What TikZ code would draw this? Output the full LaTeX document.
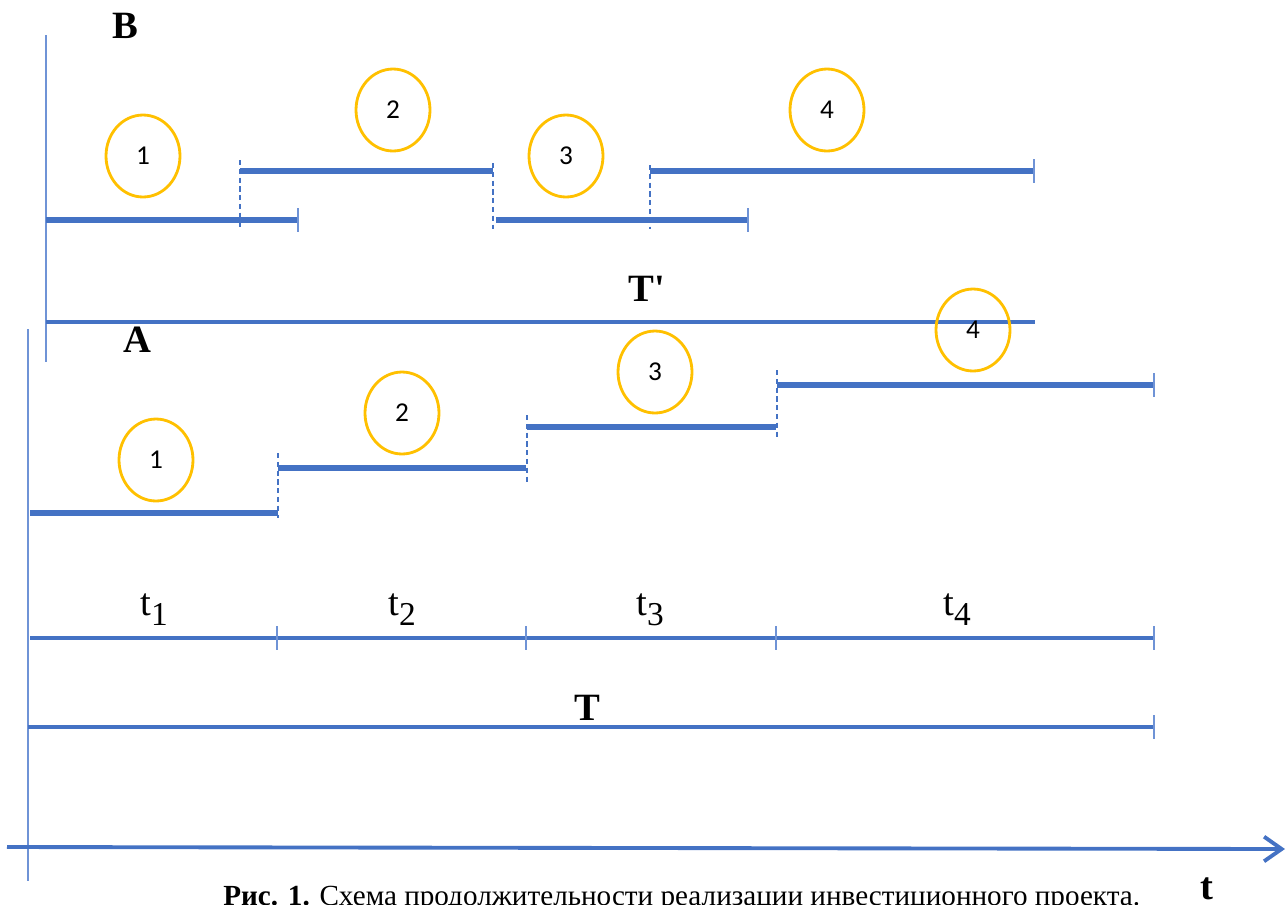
\documentclass[tikz,border=0pt]{standalone}
\usepackage{fontspec}
\setmainfont{Liberation Serif}
\newfontfamily\numfont{Carlito}
\usetikzlibrary{arrows.meta,shapes.geometric}

\definecolor{barblue}{HTML}{4472C4}
\definecolor{axisblue}{HTML}{6F93D6}
\definecolor{ringgold}{HTML}{FFC000}

\newcommand{\lowidx}[1]{\raisebox{-6pt}{\fontsize{19}{19}\selectfont #1}}

\tikzset{bar/.style = {draw=barblue, line width=2.9pt},
         span/.style = {draw=barblue, line width=2.2pt},
         axe/.style = {draw=axisblue, line width=0.9pt},
         guide/.style = {draw=barblue, line width=0.8pt, dash pattern=on 3pt off 2pt},
         endtick/.style = {-{Bar[width=13.5pt, line width=0.9pt, color=axisblue]}},
         ring/.style = {ellipse, draw=ringgold, line width=1.6pt, inner sep=0pt,
                        minimum width=1.48cm, minimum height=1.64cm,
                        font=\numfont\fontsize{15.5}{15.5}\selectfont},
         big/.style = {inner sep=0pt, font=\fontsize{22}{24}\selectfont\bfseries},
         dur/.style = {inner sep=0pt, anchor=base, font=\fontsize{22}{24}\selectfont}
        }

\begin{document}
\begin{tikzpicture}[x=0.02cm, y=-0.02cm]
\useasboundingbox (0,0) rectangle (1288,904);

% variant B
\coordinate (Btop) at (46,35);
\coordinate (Bbot) at (46,362);
\draw[axe] (Btop) -- (Bbot);
\node[big] at (125,26) (labB) {B};
\coordinate (b1s) at (46,220);  \coordinate (b1e) at (299,220);
\coordinate (b2s) at (240,171); \coordinate (b2e) at (493,171);
\coordinate (b3s) at (496,220); \coordinate (b3e) at (749,220);
\coordinate (b4s) at (650,171); \coordinate (b4e) at (1035,171);
\draw[bar, endtick] (b1s) -- (b1e);
\draw[bar] (b2s) -- (b2e);
\draw[bar, endtick] (b3s) -- (b3e);
\draw[bar, endtick] (b4s) -- (b4e);
\coordinate (gb1t) at (240,160); \coordinate (gb1b) at (240,230);
\coordinate (gb2t) at (493,163); \coordinate (gb2b) at (493,229);
\coordinate (gb3t) at (650,165); \coordinate (gb3b) at (650,229);
\draw[guide] (gb1t) -- (gb1b);
\draw[guide] (gb2t) -- (gb2b);
\draw[guide] (gb3t) -- (gb3b);
\node[ring] at (143,156) (rb1) {1};
\node[ring] at (393,110) (rb2) {2};
\node[ring] at (566,156) (rb3) {3};
\node[ring] at (827,110) (rb4) {4};
\coordinate (Tps) at (46,322); \coordinate (Tpe) at (1035,322);
\draw[span] (Tps) -- (Tpe);
\node[big] at (647,289) (labTp) {T\textquotesingle};

% variant A
\coordinate (Atop) at (28,329);
\coordinate (Abot) at (28,881);
\draw[axe] (Atop) -- (Abot);
\node[big] at (137,340) (labA) {A};
\coordinate (a1s) at (30,513);  \coordinate (a1e) at (278,513);
\coordinate (a2s) at (278,468); \coordinate (a2e) at (526,468);
\coordinate (a3s) at (527,427); \coordinate (a3e) at (776,427);
\coordinate (a4s) at (777,385); \coordinate (a4e) at (1155,385);
\draw[bar] (a1s) -- (a1e);
\draw[bar] (a2s) -- (a2e);
\draw[bar] (a3s) -- (a3e);
\draw[bar, endtick] (a4s) -- (a4e);
\coordinate (ga1t) at (278,453); \coordinate (ga1b) at (278,518);
\coordinate (ga2t) at (527,415); \coordinate (ga2b) at (527,482);
\coordinate (ga3t) at (777,370); \coordinate (ga3b) at (777,437);
\draw[guide] (ga1t) -- (ga1b);
\draw[guide] (ga2t) -- (ga2b);
\draw[guide] (ga3t) -- (ga3b);
\node[ring] at (156,460) (ra1) {1};
\node[ring] at (402,413) (ra2) {2};
\node[ring] at (655,372) (ra3) {3};
\node[ring] at (973,330) (ra4) {4};

% stages t1..t4
\coordinate (s0) at (30,638);
\coordinate (s1) at (278,638);
\coordinate (s2) at (527,638);
\coordinate (s3) at (777,638);
\coordinate (s4) at (1155,638);
\draw[span, endtick] (s0) -- (s1);
\draw[span, endtick] (s1) -- (s2);
\draw[span, endtick] (s2) -- (s3);
\draw[span, endtick] (s3) -- (s4);
\node[dur] at (154,615) (lt1) {t\lowidx{1}};
\node[dur] at (402,615) (lt2) {t\lowidx{2}};
\node[dur] at (650,615) (lt3) {t\lowidx{3}};
\node[dur] at (957,615) (lt4) {t\lowidx{4}};

% total T
\coordinate (Ts) at (28,727); \coordinate (Te) at (1155,727);
\draw[span, endtick] (Ts) -- (Te);
\node[big] at (587,708) (labT) {T};

% time axis
\coordinate (ax0) at (7,847);
\coordinate (ax1) at (1285,849);
\draw[span, -{Straight Barb[length=10pt, width=14pt]}] (ax0) -- (ax1);
\node[big, anchor=base] at (1207,899) (labt) {t};

\node[inner sep=0pt, anchor=base west, font=\fontsize{16.6}{17}\selectfont] at (223,905) (cap)
  {\textbf{Рис. 1.} Схема продолжительности реализации инвестиционного проекта.};
\end{tikzpicture}
\end{document}
